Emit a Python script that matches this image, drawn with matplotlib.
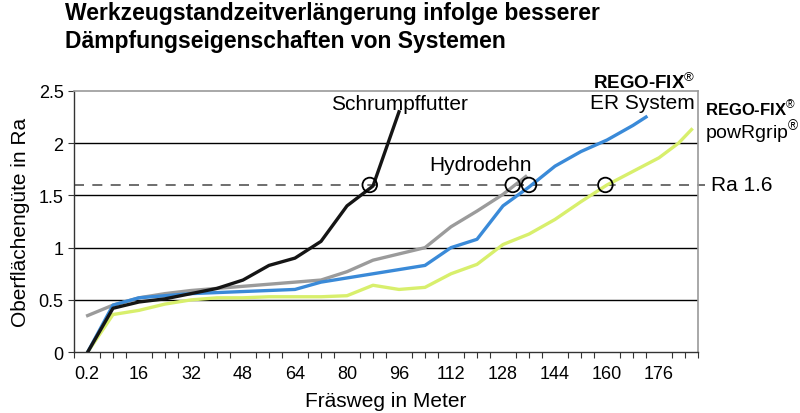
import matplotlib.pyplot as plt
import numpy as np

BLACK = '#151515'
GRAY = '#9b9b9b'
BLUE = '#3a8ad8'
GREEN = '#d8ef6c'

plt.rcParams['font.family'] = ['Liberation Sans', 'DejaVu Sans']
plt.rcParams['mathtext.fontset'] = 'custom'
plt.rcParams['mathtext.rm'] = 'Liberation Sans'

# Schrumpffutter
schrumpf_x = [0.2, 8, 16, 24, 32, 40, 48, 56, 64, 72, 80, 88, 96]
schrumpf_y = [0, 0.42, 0.48, 0.51, 0.56, 0.61, 0.69, 0.83, 0.90, 1.06, 1.40, 1.59, 2.30]

# Hydrodehn
hydro_x = [0.2, 8, 16, 24, 32, 40, 48, 56, 64, 72, 80, 88, 96, 104, 112, 120, 128, 135]
hydro_y = [0.35, 0.45, 0.52, 0.56, 0.59, 0.61, 0.63, 0.65, 0.67, 0.69, 0.77, 0.88, 0.94,
           1.0, 1.2, 1.35, 1.51, 1.68]

# REGO-FIX ER System
er_x = [0.2, 8, 16, 24, 32, 40, 48, 56, 64, 72, 80, 88, 96, 104, 112, 120, 128, 136,
        144, 152, 160, 168, 172]
er_y = [0, 0.45, 0.52, 0.54, 0.56, 0.57, 0.58, 0.59, 0.60, 0.67, 0.71, 0.75, 0.79,
        0.83, 1.0, 1.08, 1.40, 1.58, 1.78, 1.92, 2.03, 2.17, 2.25]

# REGO-FIX powRgrip
pow_x = [0.2, 8, 16, 24, 32, 40, 48, 56, 64, 72, 80, 88, 96, 104, 112, 120, 128, 136,
         144, 152, 160, 168, 176, 182, 186]
pow_y = [0, 0.36, 0.40, 0.46, 0.50, 0.52, 0.52, 0.53, 0.53, 0.53, 0.54, 0.64, 0.60,
         0.62, 0.75, 0.84, 1.03, 1.13, 1.27, 1.44, 1.60, 1.73, 1.86, 2.0, 2.13]

# Schnittpunkte mit Ra 1.6
circle_x = [87, 131, 136, 159.5]
ra_limit = 1.6

tick_labels = ['0.2', '16', '32', '48', '64', '80', '96', '112', '128', '144', '160', '176']
tick_pos = [0, 16, 32, 48, 64, 80, 96, 112, 128, 144, 160, 176]

fig = plt.figure(figsize=(8, 4.14), dpi=100)
ax = fig.add_axes([0.0925, 0.147, 0.78, 0.631])

for y in [0.5, 1, 1.5, 2]:
    ax.axhline(y, color='black', lw=1, zorder=1)

ax.plot(pow_x, pow_y, color=GREEN, lw=2.4, zorder=3)
ax.plot(hydro_x, hydro_y, color=GRAY, lw=2.4, zorder=4)
ax.plot(er_x, er_y, color=BLUE, lw=2.4, zorder=5)
ax.plot(schrumpf_x, schrumpf_y, color=BLACK, lw=2.4, zorder=6)

ax.plot([-4, 190], [ra_limit, ra_limit], color='#555555', lw=1.2, dashes=(6, 5),
        clip_on=False, zorder=2)
ax.scatter(circle_x, [ra_limit] * len(circle_x), s=110, facecolors='none',
           edgecolors='black', linewidths=1.3, zorder=7)

ax.set_xlim(-4, 188)
ax.set_ylim(0, 2.5)
ax.set_yticks([0, 0.5, 1, 1.5, 2, 2.5])
ax.set_yticklabels(['0', '0.5', '1', '1.5', '2', '2.5'])
ax.set_xticks(tick_pos)
ax.set_xticklabels(tick_labels)
ax.set_xticks(np.arange(-4, 189, 4), minor=True)
ax.tick_params(axis='x', which='both', direction='out', length=4, width=0.8,
               color='#333333', labelsize=13, pad=9)
ax.tick_params(axis='x', which='major', length=0)
ax.tick_params(axis='y', direction='out', length=4, width=0.8, labelsize=13,
               color='#333333')

for side in ['left', 'bottom']:
    ax.spines[side].set_color('#333333')
    ax.spines[side].set_linewidth(1)
for side in ['top', 'right']:
    ax.spines[side].set_color('#9a9a9a')
    ax.spines[side].set_linewidth(1.2)

ax.set_xlabel('Fräsweg in Meter', fontsize=15, labelpad=7)
ax.set_ylabel('Oberflächengüte in Ra', fontsize=15, labelpad=6)

ax.text(96, 2.38, 'Schrumpffutter', fontsize=15, ha='center', va='center')
ax.text(121, 1.8, 'Hydrodehn', fontsize=15, ha='center', va='center')
ax.text(192, 1.6, 'Ra 1.6', fontsize=15, ha='left', va='center', clip_on=False)

brand = ['Liberation Sans Narrow', 'Liberation Sans']
fig.text(0.869, 0.80, 'REGO-FIX$^{®}$', fontsize=13.5, fontweight='bold', ha='right',
         va='center', family=brand)
fig.text(0.869, 0.75, 'ER System', fontsize=15, ha='right', va='center')
fig.text(0.881, 0.735, 'REGO-FIX$^{®}$', fontsize=12, fontweight='bold', ha='left',
         va='center', family=brand)
fig.text(0.881, 0.680, 'powRgrip$^{®}$', fontsize=14, ha='left', va='center')

fig.text(0.081, 0.995, 'Werkzeugstandzeitverlängerung infolge besserer\n'
         'Dämpfungseigenschaften von Systemen', fontsize=16.5, fontweight='bold',
         ha='left', va='top', linespacing=1.3)

fig.savefig('out.png', dpi=100)
